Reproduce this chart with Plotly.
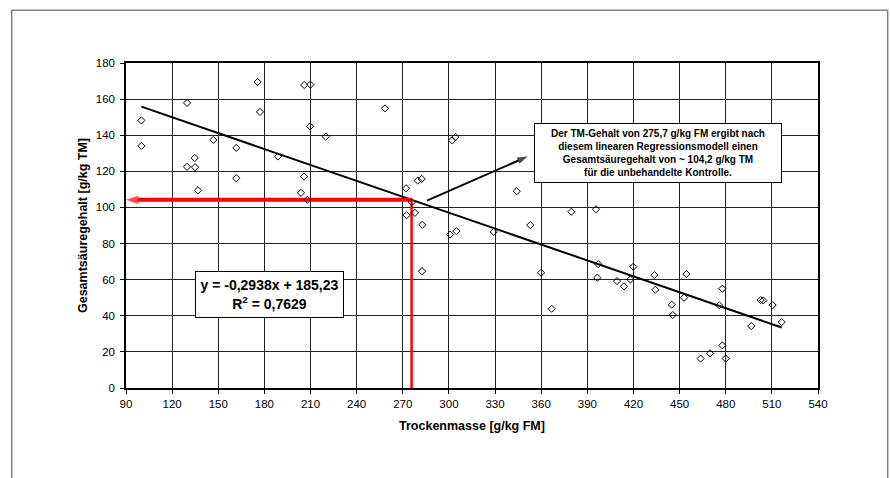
import numpy as np
import plotly.graph_objects as go

# Trockenmasse [g/kg FM] and Gesamtsäuregehalt [g/kg TM] of the samples
tm = [100.0, 100.0, 129.7, 134.7, 129.7, 134.9, 136.8, 146.8, 161.7, 161.7,
      175.6, 177.1, 188.8, 203.8, 205.9, 209.9, 209.7, 219.9, 205.8, 207.9,
      258.4, 272.1, 279.7, 282.3, 275.8, 272.5, 277.9, 282.7, 282.5, 302.0,
      304.2, 300.7, 304.8, 329.1, 344.1, 352.9, 379.6, 395.6, 359.9, 366.8,
      397.1, 396.5, 409.3, 413.8, 418.0, 419.9, 433.6, 434.2, 444.9, 445.6,
      452.9, 454.4, 463.7, 469.8, 477.8, 480.0, 475.8, 477.8, 496.6, 502.7,
      504.4, 510.5, 516.4]
gs = [148.2, 134.1, 157.9, 127.4, 122.5, 122.3, 109.5, 137.4, 133.0, 116.2,
      169.5, 152.9, 128.2, 108.1, 167.8, 168.0, 144.9, 139.2, 117.1, 104.2,
      154.9, 110.6, 114.9, 115.8, 102.9, 95.7, 97.0, 90.4, 64.7, 137.2,
      138.9, 85.0, 86.9, 86.5, 109.0, 90.2, 97.6, 99.0, 63.8, 43.9,
      68.6, 61.1, 59.2, 56.3, 60.1, 67.2, 62.5, 54.4, 46.1, 40.4,
      50.0, 63.1, 16.3, 19.2, 23.6, 16.3, 45.8, 55.0, 34.3, 48.7,
      48.5, 45.9, 36.5]

# linear regression model
slope = -0.2938
intercept = 185.23
r2 = 0.7629

# control sample
tm_control = 275.7
gs_control = 104.2

# pointer from the model line to the note box
pointer_x = [285.7, 351.2]
pointer_y = [103.8, 128.2]

x_ticks = list(range(90, 541, 30))
y_ticks = list(range(0, 181, 20))

FONT = "Arial, Liberation Sans, sans-serif"


def de(v, nd):
    """Format a number with a decimal comma."""
    return f"{v:.{nd}f}".replace(".", ",")


fig = go.Figure()

# trend line over the data range
x_fit = np.array([min(tm), max(tm)])
fig.add_trace(go.Scatter(
    x=x_fit, y=slope * x_fit + intercept, mode="lines",
    line=dict(color="black", width=2), hoverinfo="skip", showlegend=False))

# red marker lines for the control: vertical drop and arrow to the y axis
fig.add_trace(go.Scatter(
    x=[tm_control, tm_control], y=[0, gs_control], mode="lines",
    line=dict(color="#ff0000", width=2.5), hoverinfo="skip", showlegend=False))
fig.add_trace(go.Scatter(
    x=[tm_control, x_ticks[0]], y=[gs_control, gs_control], mode="lines+markers",
    line=dict(color="#ff0000", width=4),
    marker=dict(symbol="arrow", angleref="previous", size=[0, 13],
                color="#ff0000", line=dict(width=0)),
    cliponaxis=False, hoverinfo="skip", showlegend=False))

# measured samples
fig.add_trace(go.Scatter(
    x=tm, y=gs, mode="markers",
    marker=dict(symbol="diamond-open", size=5.5, color="black",
                line=dict(width=1, color="black")),
    showlegend=False))

# pointer arrow
fig.add_trace(go.Scatter(
    x=pointer_x, y=pointer_y, mode="lines+markers",
    line=dict(color="black", width=2),
    marker=dict(symbol="arrow", angleref="previous", size=[0, 11],
                color="black", line=dict(width=0)),
    hoverinfo="skip", showlegend=False))

# regression equation box
eq_text = ("y = -" + de(abs(slope), 4) + "x + " + de(intercept, 2)
           + "<br>R<sup>2</sup> = " + de(r2, 4))
fig.add_annotation(
    x=183.3, y=51.8, xref="x", yref="y", text=eq_text, showarrow=False,
    align="center", width=145, height=43,
    font=dict(family=FONT, size=14, color="black", weight="bold"),
    bgcolor="white", bordercolor="black", borderwidth=1, borderpad=1)

# explanatory note box
note = ("Der TM-Gehalt von " + de(tm_control, 1)
        + " g/kg FM ergibt nach<br>diesem linearen Regressionsmodell einen"
        + "<br>Gesamtsäuregehalt von ~ " + de(gs_control, 1)
        + " g/kg TM<br>für die unbehandelte Kontrolle.")
fig.add_annotation(
    x=436, y=130.4, xref="x", yref="y", text=note, showarrow=False,
    align="center", width=244, height=56,
    font=dict(family=FONT, size=10, color="black", weight="bold"),
    bgcolor="white", bordercolor="black", borderwidth=1, borderpad=1)

# outer chart frame
fig.add_shape(type="rect", xref="paper", yref="paper",
              x0=-0.1652, x1=1.1007, y0=-0.35, y1=1.162,
              line=dict(color="#808080", width=1.5), layer="below")

axis_common = dict(
    showline=True, linecolor="black", linewidth=1.5, mirror=True,
    showgrid=True, gridcolor="#222222", gridwidth=1,
    ticks="outside", ticklen=4, tickcolor="black", tickwidth=1,
    tickfont=dict(family=FONT, size=11.5, color="black"),
    zeroline=False)

fig.update_xaxes(
    range=[90, 540], tickvals=x_ticks, **axis_common,
    title=dict(text="Trockenmasse [g/kg FM]", standoff=13,
               font=dict(family=FONT, size=12.5, color="black", weight="bold")))
fig.update_yaxes(
    range=[0, 180], tickvals=y_ticks, ticklabelstandoff=3, **axis_common,
    title=dict(text="Gesamtsäuregehalt [g/kg TM]", standoff=5,
               font=dict(family=FONT, size=12.5, color="black", weight="bold")))

fig.update_layout(
    width=890, height=478,
    margin=dict(l=126, r=72, t=63, b=90),
    paper_bgcolor="white", plot_bgcolor="white",
    font=dict(family=FONT, color="black"),
    showlegend=False)

fig.write_html("out.html")
